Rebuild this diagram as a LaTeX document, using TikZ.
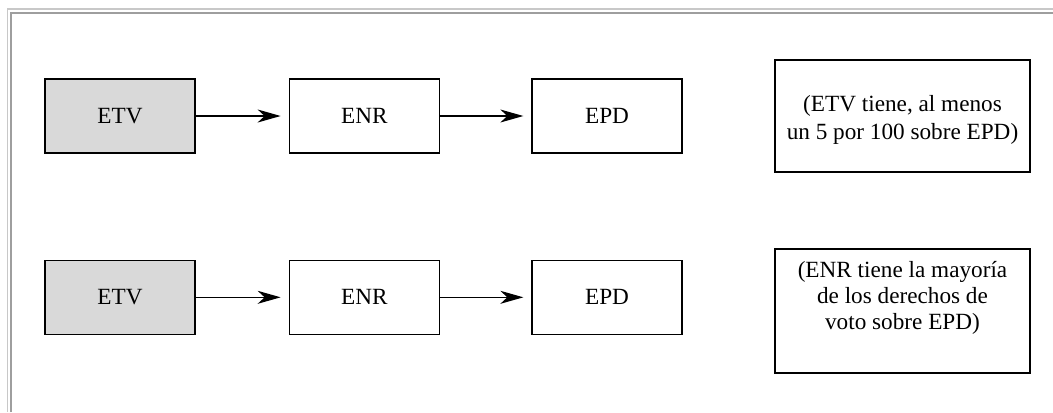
\documentclass[tikz,border=0pt]{standalone}
\usepackage{fontspec}
\setmainfont{Liberation Serif}
\usetikzlibrary{arrows.meta}
\definecolor{etvgray}{RGB}{217,217,217}
\definecolor{framelight}{RGB}{200,200,200}
\definecolor{framedark}{RGB}{158,158,158}
\begin{document}
\begin{tikzpicture}[x=1bp,y=-1bp,
  box/.style={draw=black, line width=1.3bp, minimum width=150bp, minimum height=74bp, inner sep=0pt, font=\fontsize{23.3}{28}\selectfont},
  note/.style={draw=black, line width=1.3bp, inner sep=0pt, minimum width=255bp},
  notetext/.style={align=center, inner sep=0pt},
  conn/.style={line width=1.4bp, -{Stealth[length=23bp,width=13bp,inset=7bp]}, shorten >=8bp}]
\useasboundingbox (0,0) rectangle (1053,412);
\fill[white] (0,0) rectangle (1053,412);
% frame
\draw[framelight, line width=1.2bp] (7.5,412) -- (7.5,9) -- (1053,9);
\draw[framedark, line width=2.6bp] (10.8,412) -- (10.8,13) -- (1053,13);
% row 1
\node[box, fill=etvgray] (etv1) at (120,116) {ETV};
\node[box] (enr1) at (364.3,116) {ENR};
\node[box] (epd1) at (607,116) {EPD};
\draw[conn] (etv1) -- (enr1);
\draw[conn] (enr1) -- (epd1);
\node[note, minimum height=112bp] (n1) at (902.5,116) {};
\node[notetext, font=\fontsize{23.3}{28.3}\selectfont] (t1) at (902.5,119.8) {(ETV tiene, al menos\\un 5 por 100 sobre EPD)};
% row 2
\node[box, fill=etvgray] (etv2) at (120,297.3) {ETV};
\node[box] (enr2) at (364.3,297.3) {ENR};
\node[box] (epd2) at (607,297.3) {EPD};
\draw[conn] (etv2) -- (enr2);
\draw[conn] (enr2) -- (epd2);
\node[note, minimum height=124bp] (n2) at (902.5,311) {};
\node[notetext, font=\fontsize{23.3}{25.8}\selectfont] (t2) at (902.5,297.7) {(ENR tiene la mayoría\\de los derechos de\\voto sobre EPD)};
\end{tikzpicture}
\end{document}
